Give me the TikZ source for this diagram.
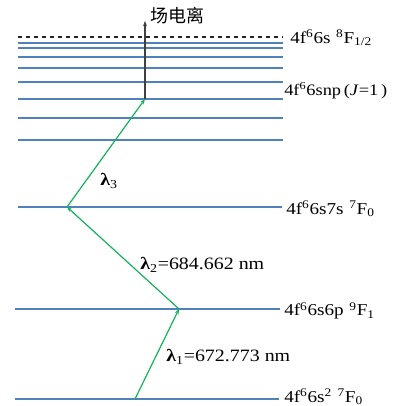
\documentclass[tikz,border=0pt]{standalone}
\usepackage{fontspec}
\setmainfont[FakeStretch=1.15]{Liberation Serif}
\newfontfamily\cjk{Noto Sans CJK SC}
\usepackage{xcolor}
\usetikzlibrary{arrows.meta,positioning,calc}

\definecolor{lvlblue}{RGB}{79,129,189}
\definecolor{beamgreen}{RGB}{20,180,90}

\begin{document}
\begin{tikzpicture}[
  x=0.75pt, y=-0.75pt,
  lvl/.style={draw=lvlblue, line width=1pt},
  lim/.style={draw=black!85, dashed, line width=1pt},
  beam/.style={-{Stealth[length=4pt,width=3pt]}, beamgreen, line width=0.9pt},
  ion/.style={-{Stealth[length=4pt,width=3pt]}, black!75, line width=1pt},
  lbl/.style={anchor=west, inner sep=0pt, font=\fontsize{12.5}{14}\selectfont},
  wl/.style={anchor=west, inner sep=0pt, font=\fontsize{13}{15}\selectfont}
]
\useasboundingbox (0,0) rectangle (398,406);

% ionisation limit
\coordinate (limL) at (18,37);
\coordinate (limR) at (283,37);
\draw[lim] (limL) -- (limR);

% Rydberg series
\foreach \yy in {43,48,57,68,82,99,118,140}
  \draw[lvl] (18,\yy) -- (283,\yy);

% lower levels
\coordinate (s7L) at (18,207);
\coordinate (s7R) at (282,207);
\coordinate (p6L) at (15,309);
\coordinate (p6R) at (280,309);
\coordinate (gL) at (15,399);
\coordinate (gR) at (279,399);
\draw[lvl] (s7L) -- (s7R);
\draw[lvl] (p6L) -- (p6R);
\draw[lvl] (gL) -- (gR);

% level labels
\node[lbl] (tlim) at (290,38) {4f\textsuperscript{6}6s\,\,\textsuperscript{8}F\textsubscript{1/2}};
\node[lbl, font=\fontsize{12}{14}\selectfont] (tsnp) at (284,91) {4f\textsuperscript{6}6snp\,(\textit{J}=1\,)};
\node[lbl] (ts7) at (286,209) {4f\textsuperscript{6}6s7s\,\,\textsuperscript{7}F\textsubscript{0}};
\node[lbl] (tp6) at (284,311) {4f\textsuperscript{6}6s6p\,\,\textsuperscript{9}F\textsubscript{1}};
\node[lbl] (tg) at (284,397) {4f\textsuperscript{6}6s\textsuperscript{2}\,\,\textsuperscript{7}F\textsubscript{0}};

% excitation path
\coordinate (g1) at (135,399);
\coordinate (p1) at (179,309);
\coordinate (s1) at (67,207);
\coordinate (n1) at (145,99);
\coordinate (top) at (145,21);
\draw[beam] (g1) -- (p1);
\draw[beam] (p1) -- (s1);
\draw[beam] (s1) -- (n1);
\draw[ion] (n1) -- (top);

\node[font=\cjk\fontsize{13.5}{15}\selectfont, anchor=west, inner sep=0pt] (fi) at (150,16) {场电离};
\node[wl] (l3) at (100,181) {\textbf{λ}\textsubscript{3}};
\node[wl] (l2) at (140,265) {\textbf{λ}\textsubscript{2}=684.662 nm};
\node[wl] (l1) at (166,357) {\textbf{λ}\textsubscript{1}=672.773 nm};

\end{tikzpicture}
\end{document}
